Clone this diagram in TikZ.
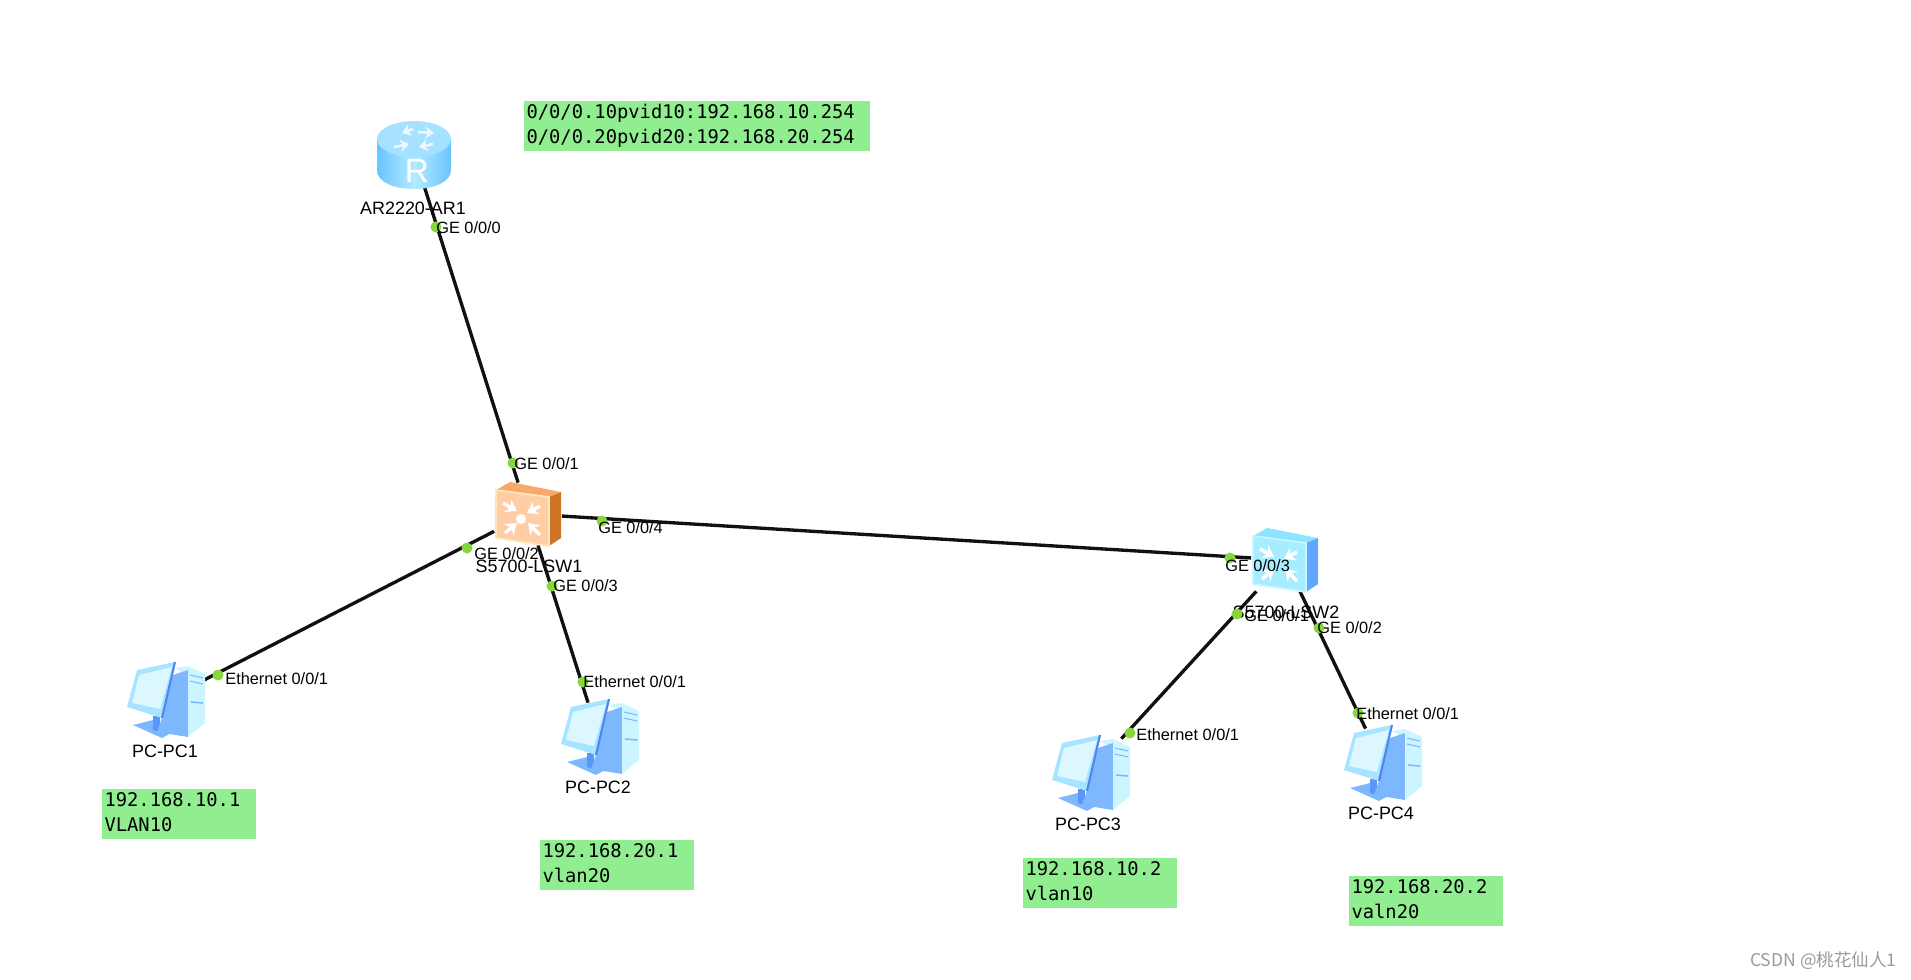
\documentclass[tikz,border=0pt]{standalone}
\usepackage{xcolor}
\usepackage{fontspec}
\setmainfont{Liberation Sans}
\newfontfamily\notefont{DejaVu Sans Mono}
\newfontfamily\markfont{Noto Sans CJK SC}
\usepackage{tikz}
\usetikzlibrary{arrows.meta, positioning}

\definecolor{notegreen}{HTML}{90EE90}
\definecolor{dotgreen}{HTML}{86D63C}
\definecolor{linkblack}{HTML}{111111}
\definecolor{marktext}{HTML}{9A9A9A}
\definecolor{rtrtop}{HTML}{A6E2FF}
\definecolor{rtrside}{HTML}{69C4FF}
\definecolor{rtrmid}{HTML}{B4EBFF}
\definecolor{swofront}{HTML}{FFCDA6}
\definecolor{swoedge}{HTML}{FFE6BE}
\definecolor{swotop}{HTML}{F8A868}
\definecolor{swoside}{HTML}{CE7424}
\definecolor{swbfront}{HTML}{A8EDFF}
\definecolor{swbedge}{HTML}{C8F6FF}
\definecolor{swbtop}{HTML}{8CE4FF}
\definecolor{swbside}{HTML}{62A6FF}
\definecolor{pcframe}{HTML}{A6E4FF}
\definecolor{pcscreen}{HTML}{DCF7FF}
\definecolor{pcstand}{HTML}{7DB8FF}
\definecolor{pctower}{HTML}{CDF5FF}
\definecolor{pcedge}{HTML}{4C86F0}

\tikzset{
    rtrbox/.style={minimum width=1.46cm, minimum height=1.26cm, inner sep=0pt},
    swbox/.style={minimum width=1.34cm, minimum height=1.24cm, inner sep=0pt},
    pcbox/.style={minimum width=1.5cm, minimum height=1.36cm, inner sep=0pt},
    link/.style={draw=linkblack, line width=1.9pt},
    portdot/.style={circle, fill=dotgreen, inner sep=0pt, minimum size=0.22cm},
    porttext/.style={anchor=west, inner sep=0pt, font=\fontsize{9.3}{11}\selectfont},
    devtext/.style={inner sep=0pt, font=\fontsize{10.2}{12}\selectfont},
    notebox/.style={fill=notegreen, minimum height=1cm, inner xsep=0.05cm, inner ysep=0pt,
        align=left, font=\notefont\fontsize{10.7}{13.9}\selectfont,
        execute at begin node=\strut, execute at end node=\strut},
    burst/.style={draw=white, line width=2pt, -{Stealth[length=6pt,width=8pt]}},
    rtrburst/.style={draw=white!80!rtrtop, line width=1.4pt, -{Stealth[length=5pt,width=7pt]}},
    pics/rtricon/.style={code={
        \path[left color=rtrside, right color=rtrside, middle color=rtrmid]
            (-37,-15) -- (-37,16) .. controls (-37,28) and (-20,35) .. (0,35)
            .. controls (20,35) and (37,28) .. (37,16) -- (37,-15) -- cycle;
        \fill[rtrtop] (0,-15) ellipse [x radius=37, y radius=18];
        \draw[rtrburst] (-1,-25) -- (-12,-21);
        \draw[rtrburst] (4,-22) -- (20,-21);
        \draw[rtrburst] (-20,-7) -- (-5,-10);
        \draw[rtrburst] (19,-10) -- (5,-7);
    }},
    pics/swicon/.style n args={4}{code={
        \fill[#2] (-32,-24) -- (-18,-32) -- (33,-22) -- (21,-17) -- cycle;
        \fill[#3] (21,-17) -- (33,-22) -- (33,24) -- (21,32) -- cycle;
        \fill[#1, draw=#4, line width=1pt] (-32,-24) -- (21,-17) -- (21,32) -- (-32,24) -- cycle;
        \draw[burst] (-25,-11) -- (-11,-3);
        \draw[burst] (12,-8) -- (-1,-1);
        \draw[burst] (-23,19) -- (-11,9);
        \draw[burst] (12,21) -- (0,9);
    }},
    pics/pcicon/.style={code={
        % foot
        \fill[pcstand] (-32,25) -- (-12,20) -- (8,32) -- (-3,38) -- cycle;
        \fill[pcedge!70!pcstand] (-12,16) -- (-5,16) -- (-5,32) -- (-12,30) -- cycle;
        % tower
        \fill[pctower] (10,-32) -- (23,-34) -- (40,-26) -- (23,-24) -- cycle;
        \fill[pcstand] (8,-25) -- (23,-30) -- (23,37) -- (-8,32) -- (-3,18) -- cycle;
        \fill[pctower] (23,-30) -- (40,-26) -- (40,23) -- (23,37) -- cycle;
        \draw[pcstand, line width=0.6pt] (25,-25) -- (38,-22);
        \draw[pcstand, line width=0.6pt] (25,-19) -- (38,-16);
        \draw[pcstand, line width=0.9pt] (26,2) -- (38,3);
        % monitor
        \fill[pcframe] (-28,-30) -- (10,-38) -- (-3,18) -- (-38,7) -- cycle;
        \fill[pcscreen] (-26,-25) -- (7,-33) -- (-5,9) -- (-33,3) -- cycle;
        \draw[pcedge, line width=1.2pt] (10,-38) -- (-3,18);
    }}
}

\begin{document}
\begin{tikzpicture}[x=0.02cm, y=-0.02cm]
\useasboundingbox (0,0) rectangle (1911,980);

% Devices
\node[rtrbox] (ar1) at (414,154) {};
\node[swbox] (lsw1) at (528,514) {};
\node[swbox] (lsw2) at (1285,560) {};
\node[pcbox] (pc1) at (165,700) {};
\node[pcbox] (pc2) at (599,737) {};
\node[pcbox] (pc3) at (1090,773) {};
\node[pcbox] (pc4) at (1382,763) {};

% Links
\draw[link] (ar1) -- (lsw1);
\draw[link] (lsw1) -- (lsw2);
\draw[link] (lsw1) -- (pc1);
\draw[link] (lsw1) -- (pc2);
\draw[link] (lsw2) -- (pc3);
\draw[link] (lsw2) -- (pc4);

% Icons
\pic at (ar1.center) {rtricon};
\node[white, inner sep=0pt, font=\fontsize{19}{22}\selectfont] (rletter) at (417,171) {R};
\pic at (lsw1.center) {swicon={swofront}{swotop}{swoside}{swoedge}};
\pic at (lsw2.center) {swicon={swbfront}{swbtop}{swbside}{swbedge}};
\path (lsw1.center) ++(-7,5) coordinate (lsw1hub);
\fill[white] (lsw1hub) circle (5);
\pic at (pc1.center) {pcicon};
\pic at (pc2.center) {pcicon};
\pic at (pc3.center) {pcicon};
\pic at (pc4.center) {pcicon};

% Device names
\node[devtext] (ar1name) at (413,208) {AR2220-AR1};
\node[devtext] (lsw1name) at (529,566) {S5700-LSW1};
\node[devtext] (lsw2name) at (1286,612) {S5700-LSW2};
\node[devtext] (pc1name) at (165,751) {PC-PC1};
\node[devtext] (pc2name) at (598,787) {PC-PC2};
\node[devtext] (pc3name) at (1088,824) {PC-PC3};
\node[devtext] (pc4name) at (1381,813) {PC-PC4};

% Port dots
\node[portdot] (d1) at (436,227) {};
\node[portdot] (d2) at (513,463) {};
\node[portdot] (d3) at (467,548) {};
\node[portdot] (d4) at (552,586) {};
\node[portdot] (d5) at (602,521) {};
\node[portdot] (d6) at (218,675) {};
\node[portdot] (d7) at (583,682) {};
\node[portdot] (d8) at (1230,558) {};
\node[portdot] (d9) at (1237,614) {};
\node[portdot] (d10) at (1319,628) {};
\node[portdot] (d11) at (1130,733) {};
\node[portdot] (d12) at (1358,713) {};

% Port labels
\node[porttext] (p1) at (436,228) {GE 0/0/0};
\node[porttext] (p2) at (514,464) {GE 0/0/1};
\node[porttext] (p3) at (474,554) {GE 0/0/2};
\node[porttext] (p4) at (553,586) {GE 0/0/3};
\node[porttext] (p5) at (598,528) {GE 0/0/4};
\node[porttext] (p6) at (225,679) {Ethernet 0/0/1};
\node[porttext] (p7) at (583,682) {Ethernet 0/0/1};
\node[porttext] (p8) at (1225,566) {GE 0/0/3};
\node[porttext] (p9) at (1244,616) {GE 0/0/1};
\node[porttext] (p10) at (1317,628) {GE 0/0/2};
\node[porttext] (p11) at (1136,735) {Ethernet 0/0/1};
\node[porttext] (p12) at (1356,714) {Ethernet 0/0/1};

% Address notes
\node[notebox, text width=6.82cm] (note1) at (697,126) {0/0/0.10pvid10:192.168.10.254\\0/0/0.20pvid20:192.168.20.254};
\node[notebox, text width=2.98cm] (note2) at (179,814) {192.168.10.1\\VLAN10};
\node[notebox, text width=2.98cm] (note3) at (617,865) {192.168.20.1\\vlan20};
\node[notebox, text width=2.98cm] (note4) at (1100,883) {192.168.10.2\\vlan10};
\node[notebox, text width=2.98cm] (note5) at (1426,901) {192.168.20.2\\valn20};

% Watermark
\node[anchor=east, inner sep=0pt, text=marktext, font=\markfont\fontsize{10}{12}\selectfont] (mark) at (1897,961) {CSDN @桃花仙人1};

\end{tikzpicture}
\end{document}
